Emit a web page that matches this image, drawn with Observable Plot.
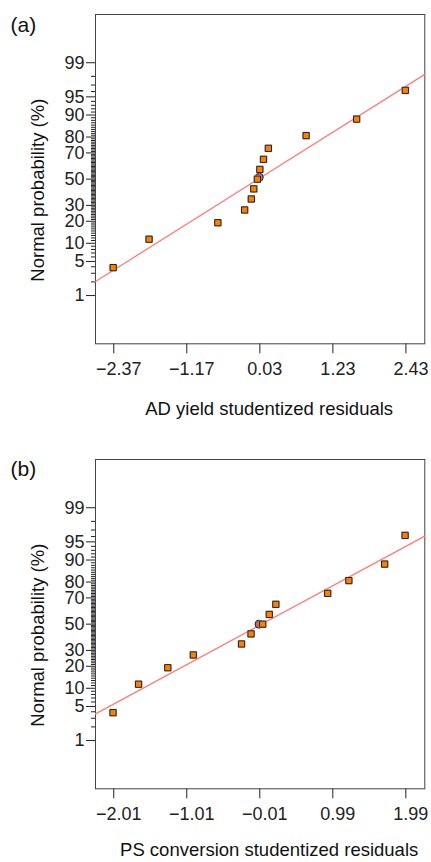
<!DOCTYPE html>
<html>
<head>
<meta charset="utf-8">
<script src="https://cdn.jsdelivr.net/npm/d3@7"></script>
<script src="https://cdn.jsdelivr.net/npm/@observablehq/plot@0.6"></script>
<style>
  html, body { margin: 0; padding: 0; background: #fff; }
  #chart svg { display: block; }
</style>
</head>
<body>
<div id="chart"></div>
<script>
// ---------- data ----------
const yMajorTicks = [1, 5, 10, 20, 30, 50, 70, 80, 90, 95, 99];
const yMinorTicks = d3.range(1, 100).filter(v => !yMajorTicks.includes(v));
const yDomainP = [0.05, 99.95];

// panel (a)
const xTicksA = [-2.37, -1.17, 0.03, 1.23, 2.43];
const xTickLabelsA = ["\u22122.37", "\u22121.17", "0.03", "1.23", "2.43"];
const xDomainA = [-2.67, 2.74];
const residA = [-2.38, -1.79, -0.66, -0.22, -0.11, -0.07, -0.01, 0.03, 0.09, 0.17, 0.79, 1.62, 2.42];
const probA  = [3.85, 11.5, 19.2, 26.9, 34.6, 42.3, 50.0, 57.7, 65.4, 73.1, 80.8, 88.5, 96.2];
const centerResidA = [0.02];
const centerProbA = [51.5];
const fitResidA = [-2.67, 2.74];
const fitProbA = [2.04, 98.19];
const xLabelA = "AD yield studentized residuals";

// panel (b)
const xTicksB = [-2.01, -1.01, -0.01, 0.99, 1.99];
const xTickLabelsB = ["\u22122.01", "\u22121.01", "\u22120.01", "0.99", "1.99"];
const xDomainB = [-2.26, 2.25];
const residB = [-2.02, -1.67, -1.27, -0.92, -0.26, -0.13, 0.03, 0.12, 0.21, 0.92, 1.21, 1.70, 1.98];
const probB  = [3.85, 11.5, 19.2, 26.9, 34.6, 42.3, 50.0, 57.7, 65.4, 73.1, 80.8, 88.5, 96.2];
const centerResidB = [-0.02];
const centerProbB = [50.0];
const fitResidB = [-2.26, 2.25];
const fitProbB = [3.64, 96.08];
const xLabelB = "PS conversion studentized residuals";

const yLabel = "Normal probability (%)";

// ---------- normal probability (probit) transform ----------
function probit(p) {
  const a = [-3.969683028665376e+01, 2.209460984245205e+02, -2.759285104469687e+02, 1.383577518672690e+02, -3.066479806614716e+01, 2.506628277459239e+00];
  const b = [-5.447609879822406e+01, 1.615858368580409e+02, -1.556989798598866e+02, 6.680131188771972e+01, -1.328068155288572e+01];
  const c = [-7.784894002430293e-03, -3.223964580411365e-01, -2.400758277161838e+00, -2.549732539343734e+00, 4.374664141464968e+00, 2.938163982698783e+00];
  const d = [7.784695709041462e-03, 3.224671290700398e-01, 2.445134137142996e+00, 3.754408661907416e+00];
  const pl = 0.02425, ph = 1 - pl;
  let q, r;
  if (p < pl) {
    q = Math.sqrt(-2 * Math.log(p));
    return (((((c[0]*q+c[1])*q+c[2])*q+c[3])*q+c[4])*q+c[5]) / ((((d[0]*q+d[1])*q+d[2])*q+d[3])*q+1);
  } else if (p <= ph) {
    q = p - 0.5; r = q*q;
    return (((((a[0]*r+a[1])*r+a[2])*r+a[3])*r+a[4])*r+a[5])*q / (((((b[0]*r+b[1])*r+b[2])*r+b[3])*r+b[4])*r+1);
  } else {
    q = Math.sqrt(-2 * Math.log(1 - p));
    return -(((((c[0]*q+c[1])*q+c[2])*q+c[3])*q+c[4])*q+c[5]) / ((((d[0]*q+d[1])*q+d[2])*q+d[3])*q+1);
  }
}
const Y = p => probit(p / 100);

const FONT = "'Liberation Sans', Arial, Helvetica, sans-serif";

function panel({tag, xTicks, xTickLabels, xDomain, resid, prob, cRes, cProb, fitRes, fitProb, xLabel, height, marginTop, marginBottom, tagDy, xLabelDy}) {
  const pts = resid.map((x, i) => ({x, p: prob[i]}));
  const ctr = cRes.map((x, i) => ({x, p: cProb[i]}));
  const fit = fitRes.map((x, i) => ({x, p: fitProb[i]}));
  const majorMap = new Map(yMajorTicks.map(v => [Y(v), String(v)]));
  return Plot.plot({
    width: 431,
    height,
    marginLeft: 95,
    marginRight: 6.7,
    marginTop,
    marginBottom,
    style: {fontFamily: FONT, fontSize: "18px", color: "#222", background: "#fff"},
    x: {domain: xDomain},
    y: {domain: yDomainP.map(Y)},
    marks: [
      Plot.axisY(yMinorTicks.map(Y), {tickSize: 4, tickFormat: () => "", label: null, strokeWidth: 1}),
      Plot.axisY(yMajorTicks.map(Y), {tickSize: 9, tickPadding: 2, fontSize: 18, tickFormat: v => majorMap.get(v), label: null}),
      Plot.axisX(xTicks, {tickSize: 10, tickFormat: () => "", label: null}),
      Plot.axisX(xTicks, {tickSize: 0, tickPadding: 18, dx: 5, fontSize: 18, tickFormat: v => xTickLabels[xTicks.indexOf(v)], label: null}),
      Plot.frame({stroke: "#444", strokeWidth: 1}),
      Plot.line(fit, {x: "x", y: d => Y(d.p), stroke: "#ff7b7b", strokeWidth: 1.3}),
      Plot.dot(ctr, {x: "x", y: d => Y(d.p), r: 4, fill: "#c46767", stroke: "#222", strokeWidth: 1}),
      Plot.dot(pts, {x: "x", y: d => Y(d.p), symbol: "square", r: 4.3, fill: "#b5b5b5", stroke: "none"}),
      Plot.dot(pts, {x: "x", y: d => Y(d.p), symbol: "square", r: 3.5, fill: "#ff8000", stroke: "#222", strokeWidth: 1}),
      Plot.text([tag], {frameAnchor: "top-left", dx: -85, dy: tagDy, textAnchor: "start", lineAnchor: "middle", fontSize: 21, fill: "#111"}),
      Plot.text([yLabel], {frameAnchor: "left", dx: -57.5, dy: 11, rotate: -90, textAnchor: "middle", lineAnchor: "middle", fontSize: 18.5, fill: "#111"}),
      Plot.text([xLabel], {frameAnchor: "bottom", dx: 9, dy: xLabelDy, textAnchor: "middle", lineAnchor: "middle", fontSize: 18.5, fill: "#111"})
    ]
  });
}

const chart = document.getElementById("chart");
chart.appendChild(panel({
  tag: "(a)", xTicks: xTicksA, xTickLabels: xTickLabelsA, xDomain: xDomainA,
  resid: residA, prob: probA, cRes: centerResidA, cProb: centerProbA,
  fitRes: fitResidA, fitProb: fitProbA, xLabel: xLabelA,
  height: 431, marginTop: 14, marginBottom: 87.7, tagDy: 11, xLabelDy: 65
}));
chart.appendChild(panel({
  tag: "(b)", xTicks: xTicksB, xTickLabels: xTickLabelsB, xDomain: xDomainB,
  resid: residB, prob: probB, cRes: centerResidB, cProb: centerProbB,
  fitRes: fitResidB, fitProb: fitProbB, xLabel: xLabelB,
  height: 431, marginTop: 28, marginBottom: 73.7, tagDy: 9.5, xLabelDy: 61
}));
</script>
</body>
</html>
